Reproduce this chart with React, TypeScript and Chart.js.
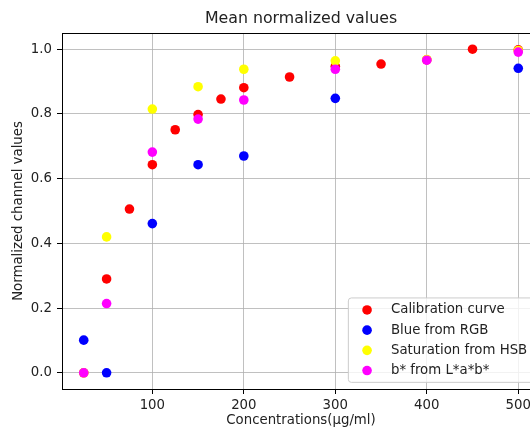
import React, { useEffect, useRef } from "react";
import { Chart, registerables } from "chart.js";

Chart.register(...registerables);

const TITLE = "Mean normalized values";
const X_LABEL = "Concentrations(μg/ml)";
const Y_LABEL = "Normalized channel values";

const X_TICKS = [100, 200, 300, 400, 500];
const Y_TICKS = [0, 0.2, 0.4, 0.6, 0.8, 1.0];

const calibX = [25, 50, 75, 100, 125, 150, 175, 200, 250, 300, 350, 400, 450, 500];
const calibY = [0, 0.29, 0.506, 0.643, 0.751, 0.798, 0.846, 0.881, 0.914, 0.947, 0.954, 0.967, 1.0, 0.998];

const rgbX = [25, 50, 100, 150, 200, 300, 500];
const rgbY = [0.101, 0.0, 0.461, 0.643, 0.67, 0.848, 0.941];

const hsbX = [25, 50, 100, 150, 200, 300, 400, 500];
const hsbY = [0.0, 0.42, 0.815, 0.884, 0.938, 0.964, 0.968, 0.996];

const labX = [25, 50, 100, 150, 200, 300, 400, 500];
const labY = [0.0, 0.214, 0.682, 0.784, 0.843, 0.938, 0.966, 0.991];

const SERIES = [
  { label: "Calibration curve", xs: calibX, ys: calibY, color: "#ff0000" },
  { label: "Blue from RGB", xs: rgbX, ys: rgbY, color: "#0000ff" },
  { label: "Saturation from HSB", xs: hsbX, ys: hsbY, color: "#ffff00" },
  { label: "b* from L*a*b*", xs: labX, ys: labY, color: "#ff00ff" },
];

const FONT = "'DejaVu Sans', sans-serif";
const TEXT = "#222222";
const FS = 13.3;

const decorPlugin = {
  id: "decor",
  afterDraw(chart: any) {
    const { ctx, chartArea: ca } = chart;
    ctx.save();
    // top and right spines
    ctx.strokeStyle = "#000";
    ctx.lineWidth = 1;
    ctx.beginPath();
    ctx.moveTo(ca.left, ca.top + 0.5);
    ctx.lineTo(ca.right, ca.top + 0.5);
    ctx.moveTo(ca.right - 0.5, ca.top);
    ctx.lineTo(ca.right - 0.5, ca.bottom);
    ctx.stroke();
    // title
    ctx.fillStyle = TEXT;
    ctx.font = `15.8px ${FONT}`;
    ctx.textAlign = "center";
    ctx.textBaseline = "middle";
    ctx.fillText(TITLE, (ca.left + ca.right) / 2, 19);
    // legend
    const pad = 6.65;
    const w = 185;
    const h = 84.4;
    const right = ca.right - pad;
    const bottom = ca.bottom - pad;
    const left = right - w;
    const top = bottom - h;
    ctx.beginPath();
    const r = 3;
    ctx.moveTo(left + r, top);
    ctx.lineTo(right - r, top);
    ctx.quadraticCurveTo(right, top, right, top + r);
    ctx.lineTo(right, bottom - r);
    ctx.quadraticCurveTo(right, bottom, right - r, bottom);
    ctx.lineTo(left + r, bottom);
    ctx.quadraticCurveTo(left, bottom, left, bottom - r);
    ctx.lineTo(left, top + r);
    ctx.quadraticCurveTo(left, top, left + r, top);
    ctx.closePath();
    ctx.fillStyle = "rgba(255,255,255,0.8)";
    ctx.fill();
    ctx.strokeStyle = "#cccccc";
    ctx.lineWidth = 1;
    ctx.stroke();
    ctx.font = `${FS}px ${FONT}`;
    ctx.textAlign = "left";
    ctx.textBaseline = "middle";
    chart.data.datasets.forEach((ds: any, i: number) => {
      const cy = top + 12 + i * 20.2;
      ctx.beginPath();
      ctx.arc(left + 18.7, cy, 4.8, 0, Math.PI * 2);
      ctx.fillStyle = ds.backgroundColor;
      ctx.fill();
      ctx.fillStyle = TEXT;
      ctx.fillText(ds.label, left + 42.6, cy);
    });
    ctx.restore();
  },
};

export default function App() {
  const ref = useRef<HTMLCanvasElement>(null);
  useEffect(() => {
    if (!ref.current) return;
    const chart = new Chart(ref.current, {
      type: "scatter",
      data: {
        datasets: SERIES.map((s, idx) => ({
          label: s.label,
          data: s.xs.map((x, i) => ({ x, y: s.ys[i] })),
          backgroundColor: s.color,
          borderColor: s.color,
          borderWidth: 0,
          pointRadius: 4.8,
          pointHoverRadius: 4.8,
          order: SERIES.length - idx,
        })),
      },
      options: {
        responsive: false,
        animation: false,
        events: [],
        layout: { padding: { top: 33, right: 20, bottom: 0, left: 0 } },
        plugins: { legend: { display: false }, tooltip: { enabled: false }, title: { display: false } },
        scales: {
          x: {
            type: "linear",
            min: 1.25,
            max: 523.75,
            z: 1,
            afterBuildTicks: (s: any) => {
              s.ticks = X_TICKS.map((v) => ({ value: v }));
            },
            afterFit: (s: any) => {
              s.height = 40;
            },
            ticks: { font: { family: FONT, size: FS }, color: TEXT, padding: 4, callback: (v: any) => String(v) },
            grid: { color: "#b0b0b0", lineWidth: 0.8, tickColor: "#000", tickLength: 5, tickWidth: 1 },
            border: { color: "#000", width: 1 },
            title: { display: true, text: X_LABEL, font: { family: FONT, size: FS }, color: TEXT, padding: { top: 0, bottom: 0 } },
          },
          y: {
            type: "linear",
            min: -0.05,
            max: 1.05,
            z: 1,
            afterBuildTicks: (s: any) => {
              s.ticks = Y_TICKS.map((v) => ({ value: v }));
            },
            afterFit: (s: any) => {
              s.width = 62;
            },
            ticks: { font: { family: FONT, size: FS }, color: TEXT, padding: 5, callback: (v: any) => Number(v).toFixed(1) },
            grid: { color: "#b0b0b0", lineWidth: 0.8, tickColor: "#000", tickLength: 5, tickWidth: 1 },
            border: { color: "#000", width: 1 },
            title: { display: true, text: Y_LABEL, font: { family: FONT, size: FS }, color: TEXT, padding: { top: 11, bottom: 0 } },
          },
        },
      },
      plugins: [decorPlugin],
    } as any);
    return () => chart.destroy();
  }, []);
  return (
    <div style={{ position: "fixed", left: 0, top: 0, width: 530, height: 429, overflow: "hidden", background: "#fff" }}>
      <canvas ref={ref} width={560} height={429} style={{ width: 560, height: 429, display: "block" }} />
    </div>
  );
}
